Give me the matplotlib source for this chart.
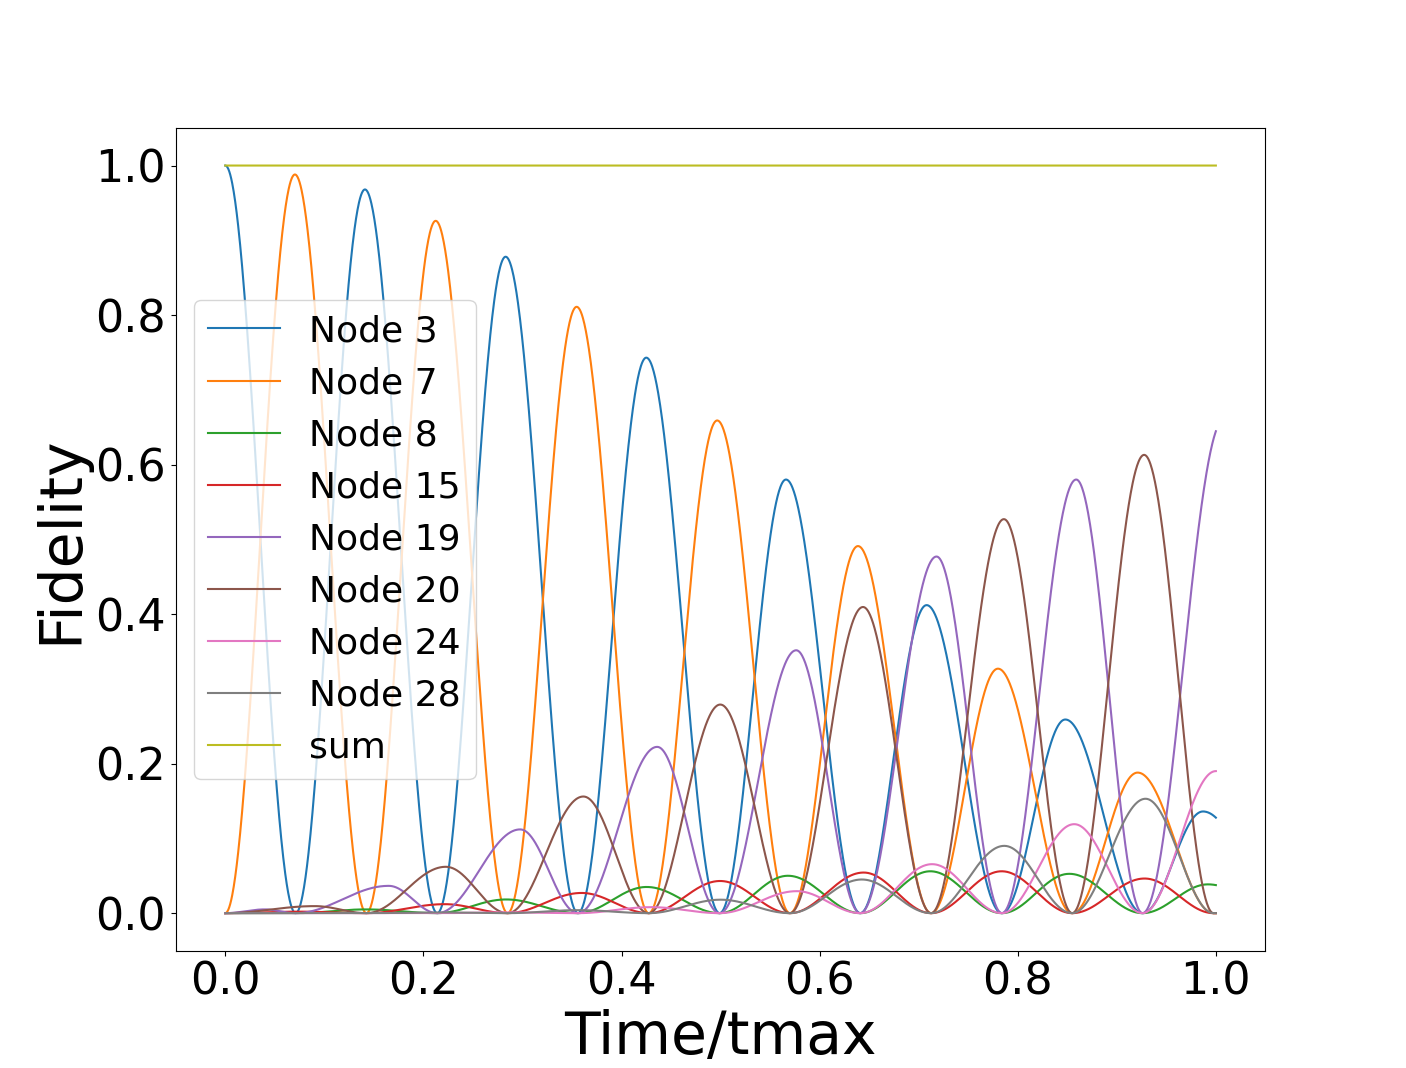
import numpy as np
import matplotlib
matplotlib.use('Agg')
import matplotlib.pyplot as plt

# times where the curves touch zero, one before 0 and one after 1
zero_t = [-0.071, 0.0, 0.071, 0.1425, 0.214, 0.285, 0.356, 0.4275, 0.499,
          0.570, 0.641, 0.7125, 0.784, 0.855, 0.926, 0.9975, 1.069]

# lobe peaks per node: (time, fidelity)
# "even" nodes have their lobes between zero_t[0::2], "odd" ones between zero_t[1::2]
node3_t = [0.0, 0.141, 0.283, 0.425, 0.566, 0.708, 0.848, 0.987]
node3_v = [1.0, 0.968, 0.878, 0.743, 0.580, 0.412, 0.259, 0.136]

node7_t = [0.0703, 0.2124, 0.3547, 0.4966, 0.6387, 0.780, 0.921]
node7_v = [0.988, 0.926, 0.811, 0.659, 0.491, 0.327, 0.188]

node8_t = [0.0, 0.142, 0.2835, 0.4253, 0.568, 0.7117, 0.852, 0.992]
node8_v = [0.0, 0.005, 0.0183, 0.035, 0.050, 0.056, 0.0526, 0.0385]

node15_t = [0.075, 0.2215, 0.3597, 0.4995, 0.6444, 0.7838, 0.928]
node15_v = [0.002, 0.012, 0.027, 0.043, 0.0543, 0.056, 0.0463]

node19_t = [0.04, 0.165, 0.2977, 0.436, 0.5764, 0.718, 0.859, 1.008]
node19_v = [0.005, 0.0365, 0.112, 0.2224, 0.3516, 0.477, 0.580, 0.66]

node20_t = [0.0904, 0.2226, 0.3615, 0.4997, 0.6438, 0.786, 0.9276]
node20_v = [0.0094, 0.062, 0.156, 0.279, 0.4095, 0.527, 0.613]

node24_t = [0.0, 0.142, 0.285, 0.43, 0.577, 0.7135, 0.857, 1.0]
node24_v = [0.0, 0.0, 0.001, 0.008, 0.0294, 0.0655, 0.119, 0.19]

node28_t = [0.071, 0.214, 0.356, 0.50, 0.6426, 0.7864, 0.929]
node28_v = [0.0, 0.001, 0.004, 0.018, 0.045, 0.090, 0.153]

sum_v = 1.0

nodes = [('Node 3', node3_t, node3_v, 0),
         ('Node 7', node7_t, node7_v, 1),
         ('Node 8', node8_t, node8_v, 0),
         ('Node 15', node15_t, node15_v, 1),
         ('Node 19', node19_t, node19_v, 0),
         ('Node 20', node20_t, node20_v, 1),
         ('Node 24', node24_t, node24_v, 0),
         ('Node 28', node28_t, node28_v, 1)]

t = np.linspace(0, 1, 2001)


def lobes(t, peaks_t, peaks_v, parity):
    """build the curve lobe by lobe, each lobe rises from one zero to its peak and falls to the next"""
    z = np.array(zero_t)[parity::2]
    y = np.zeros_like(t)
    for j, (p, h) in enumerate(zip(peaks_t, peaks_v)):
        a = max(z[j], 0.0)
        b = z[j + 1]
        down = (t >= p) & (t <= b)
        y[down] = h * np.sin(np.pi / 2 * (b - t[down]) / (b - p)) ** 2
        if p > a:
            up = (t >= a) & (t < p)
            y[up] = h * np.sin(np.pi / 2 * (t[up] - a) / (p - a)) ** 2
    return y


fig, ax = plt.subplots(figsize=(14.06, 10.68), dpi=100)
for name, pt, pv, par in nodes:
    ax.plot(t, lobes(t, pt, pv, par), label=name)
ax.plot(t, np.full_like(t, sum_v), label='sum')

ax.set_xlabel('Time/tmax', fontsize=42)
ax.set_ylabel('Fidelity', fontsize=42)
ax.tick_params(labelsize=32)
ax.legend(loc='center left', fontsize=26)
fig.savefig('out.png')
